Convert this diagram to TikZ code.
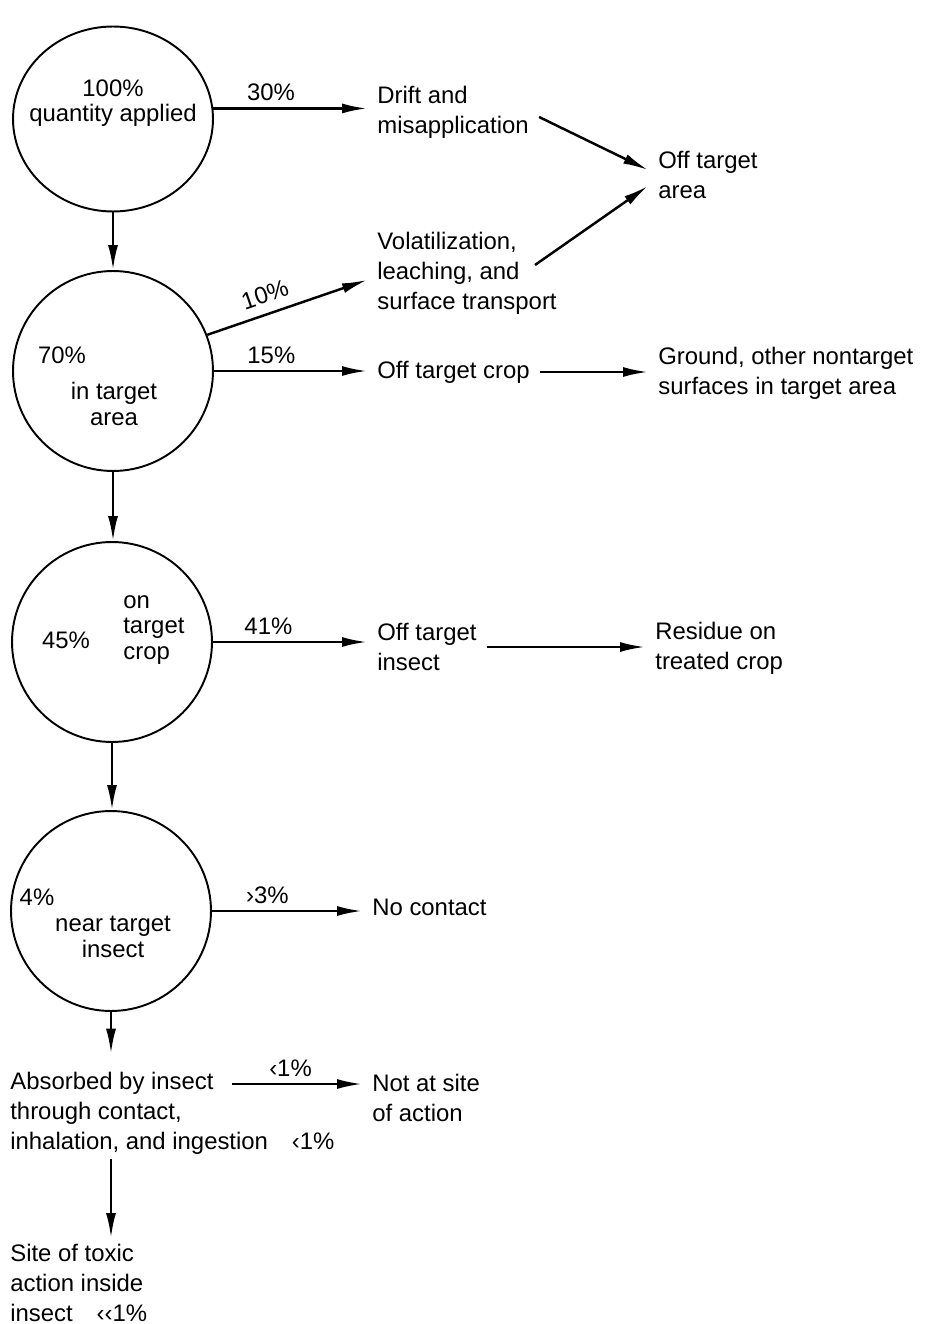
\documentclass[tikz,border=0pt]{standalone}
\usepackage{fontspec}
\setmainfont{Liberation Sans}
\usetikzlibrary{arrows.meta,positioning,shapes.geometric}

\tikzset{
  pool/.style={draw,ellipse,line width=1.1pt,inner sep=0pt,minimum width=4cm,minimum height=4cm},
  txt/.style={inner xsep=0.2cm,inner ysep=0pt,align=left,font=\fontsize{13.6}{17}\selectfont},
  ctxt/.style={inner sep=0pt,align=center,font=\fontsize{13.6}{14.5}\selectfont},
  pct/.style={inner sep=0.13cm,font=\fontsize{13.6}{15}\selectfont},
  flow/.style={-{Latex[length=0.5cm,width=0.2cm]},line width=1.4pt},
}

\begin{document}
\begin{tikzpicture}[x=0.02cm,y=-0.02cm]
  \useasboundingbox (0,0) rectangle (936,1324);

  % the four pools
  \node[pool,minimum height=3.7cm] (applied) at (113,119) {};
  \node[pool] (inarea) at (113,371) {};
  \node[pool] (oncrop) at (112,642) {};
  \node[pool] (nearinsect) at (111,911) {};

  % texts inside the pools
  \node[ctxt] (appliedtxt) at (113,103) {100\%\\quantity applied};
  \node[ctxt] (inareapct) at (62,355) {70\%};
  \node[ctxt] (inareatxt) at (114,404) {in target\\area};
  \node[ctxt] (oncroppct) at (66,640) {45\%};
  \node[ctxt,align=left,anchor=west] (oncroptxt) at (123,630) {on\\target\\crop};
  \node[ctxt] (nearpct) at (37,897) {4\%};
  \node[ctxt] (neartxt) at (113,937) {near target\\insect};

  % outcomes
  \node[txt,anchor=west] (drift) at (367,112) {Drift and\\misapplication};
  \node[txt,anchor=west] (offarea) at (648,175) {Off target\\area};
  \node[txt,anchor=west] (volat) at (367,273) {Volatilization,\\leaching, and\\surface transport};
  \node[txt,anchor=west] (offcrop) at (367,372) {Off target crop};
  \node[txt,anchor=west] (ground) at (648,373) {Ground, other nontarget\\surfaces in target area};
  \node[txt,anchor=west] (offinsect) at (367,647) {Off target\\insect};
  \node[txt,anchor=west] (residue) at (645,648) {Residue on\\treated crop};
  \node[txt,anchor=west] (nocontact) at (362,907) {No contact};
  \node[txt,anchor=west] (absorbed) at (0,1113) {Absorbed by insect\\through contact,\\inhalation, and ingestion\quad‹1\%};
  \node[txt,anchor=west] (notsite) at (362,1098) {Not at site\\of action};
  \node[txt,anchor=west] (site) at (0,1283) {Site of toxic\\action inside\\insect\quad‹‹1\%};

  \coordinate (leachend) at (535,265);
  \coordinate (absorbout) at (232,1084);

  % flows
  \draw[flow] (applied.6) -- (applied.6 -| drift.west)
      node[pct,above,pos=0.375] {30\%};
  \draw[flow] ([yshift=-0.1cm]drift.east) -- ([yshift=0.1cm]offarea.west);
  \draw[flow] (leachend) -- ([yshift=-0.22cm]offarea.west);
  \draw[flow] (applied.south) -- (applied.south |- inarea.north);
  \draw[flow] (inarea.21) -- ([yshift=-0.14cm]volat.west)
      node[pct,above=0.06cm,sloped,pos=0.4] {10\%};
  \draw[flow] (inarea.east) -- (inarea.east -| offcrop.west)
      node[pct,above,pos=0.375] {15\%};
  \draw[flow] (offcrop.east) -- (offcrop.east -| ground.west);
  \draw[flow] (inarea.south) -- (inarea.south |- oncrop.north);
  \draw[flow] (oncrop.east) -- (oncrop.east -| offinsect.west)
      node[pct,above,pos=0.36] {41\%};
  \draw[flow] (offinsect.east) -- (offinsect.east -| residue.west);
  \draw[flow] (oncrop.south) -- (oncrop.south |- nearinsect.north);
  \draw[flow] (nearinsect.east) -- (nearinsect.east -| nocontact.west)
      node[pct,above,pos=0.37] {›3\%};
  \draw[flow,shorten >=0.36cm] (nearinsect.south) -- (nearinsect.south |- absorbed.north);
  \draw[flow] (absorbout) -- (absorbout -| notsite.west)
      node[pct,above,pos=0.45] {‹1\%};
  \draw[flow,shorten <=0.1cm,shorten >=0.12cm] (absorbed.south -| nearinsect.south) -- (site.north -| nearinsect.south);
\end{tikzpicture}
\end{document}
